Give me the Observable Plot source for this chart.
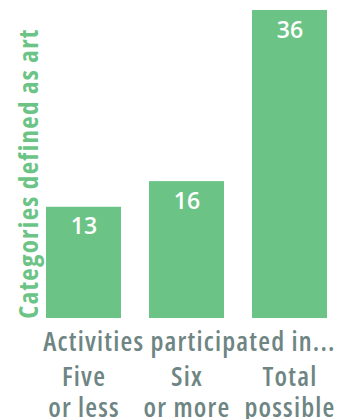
<!DOCTYPE html>
<html><head><meta charset="utf-8">
<script src="https://cdn.jsdelivr.net/npm/d3@7"></script>
<script src="https://cdn.jsdelivr.net/npm/@observablehq/plot@0.6"></script>
<style>
body{margin:0;background:#fff}
#chart svg text{font-stretch:75%}
#chart svg g[fill="white"] text{font-stretch:100%}
#chart svg g[fill="#6e8583"] text{letter-spacing:1.2px}
#chart svg g[fill="#6bc486"] text{letter-spacing:1.3px}
</style>
</head><body><div id="chart"></div>
<script>
const categories = ["Five or less", "Six or more", "Total possible"];
const tickLabels = ["Five\nor less", "Six\nor more", "Total\npossible"];
const values = [13, 16, 36];
const yLabel = "Categories defined as art";
const xTitle = "Activities participated in...";

const green = "#6bc486";
const gray = "#6e8583";
const font = '"Open Sans", sans-serif';
const data = categories.map((c, i) => ({category: c, label: tickLabels[i], value: values[i]}));

const plot = Plot.plot({
  width: 349, height: 419,
  marginLeft: 45, marginRight: 22, marginTop: 10, marginBottom: 101,
  style: {fontFamily: font, background: "#fff"},
  x: {domain: categories, paddingInner: 0.275, paddingOuter: 0, axis: null},
  y: {domain: [0, 36], axis: null},
  marks: [
    Plot.barY(data, {x: "category", y: "value", fill: green}),
    Plot.text(data, {x: "category", y: "value", text: d => String(d.value), dy: 27, lineAnchor: "bottom",
      fill: "white", fontSize: 23, fontWeight: 600}),
    Plot.text(data, {x: "category", text: "label", frameAnchor: "bottom", lineAnchor: "top", dy: 45,
      fontSize: 27, lineHeight: 1.15, fill: gray, fontWeight: 600}),
    Plot.text([xTitle], {text: d => d, frameAnchor: "bottom", lineAnchor: "bottom", dx: 3, dy: 32,
      fontSize: 27, fill: gray, fontWeight: 600}),
    Plot.text([yLabel], {text: d => d, frameAnchor: "left", textAnchor: "middle", rotate: -90, lineAnchor: "bottom", dx: -8, dy: 9,
      fontSize: 27, fill: green, fontWeight: 700})
  ]
});
document.getElementById("chart").append(plot);
</script>
</body></html>
